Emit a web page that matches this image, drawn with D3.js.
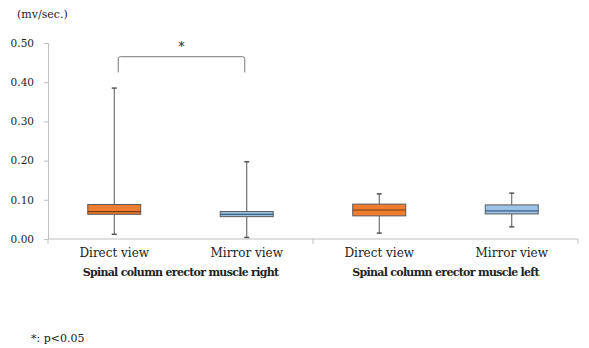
<!DOCTYPE html>
<html><head><meta charset="utf-8">
<script src="https://cdn.jsdelivr.net/npm/d3@7"></script>
<style>body{margin:0;background:#fff}svg{display:block}text{font-family:"DejaVu Serif",serif;fill:#222}</style>
</head><body><svg id="c" width="589" height="348"></svg>
<script>
const groups = ["Spinal column erector muscle right", "Spinal column erector muscle left"];
const conditions = ["Direct view", "Mirror view"];
const mins    = [[0.012, 0.004], [0.015, 0.031]];
const q1s     = [[0.063, 0.057], [0.059, 0.064]];
const medians = [[0.070, 0.063], [0.074, 0.072]];
const q3s     = [[0.088, 0.070], [0.089, 0.087]];
const maxs    = [[0.385, 0.197], [0.115, 0.117]];
const yTicks = [0.00, 0.10, 0.20, 0.30, 0.40, 0.50];
const unitLabel = "(mv/sec.)";
const sigLabel = "*";
const footnote = "*: p<0.05";
const fills = ["#ED7D31", "#9DC3E6"];
const strokes = ["#7a3b10", "#3d5f80"];

const svg = d3.select("#c");
const y = d3.scaleLinear().domain([0, 0.5]).range([239, 43]);
const xg = d3.scaleBand().domain(groups).range([48, 578]).padding(0);
const xc = d3.scaleBand().domain(conditions).range([0, xg.bandwidth()]).paddingInner(0.6).paddingOuter(0.3);

// y axis
const ya = svg.append("g").attr("transform", "translate(48,0)")
  .call(d3.axisLeft(y).tickValues(yTicks).tickFormat(d3.format(".2f")).tickSize(4).tickPadding(10));
ya.select(".domain").attr("stroke", "#bfbfbf");
ya.selectAll(".tick line").attr("stroke", "#bfbfbf");
ya.selectAll("text").style("font-family", "DejaVu Serif").style("font-size", "10.5px").attr("fill", "#222");

// x axis line with group ticks
svg.append("line").attr("x1", 48).attr("x2", 578).attr("y1", y(0)).attr("y2", y(0)).attr("stroke", "#bfbfbf");
const bounds = [xg.range()[0], ...groups.map(g => xg(g) + xg.bandwidth())];
svg.selectAll(".gt").data(bounds).join("line")
  .attr("x1", d => d).attr("x2", d => d).attr("y1", y(0)).attr("y2", y(0) + 5).attr("stroke", "#bfbfbf");

groups.forEach((g, gi) => {
  const gx = xg(g);
  conditions.forEach((c, ci) => {
    const x0 = gx + xc(c), w = xc.bandwidth(), cx = x0 + w / 2;
    const grp = svg.append("g");
    grp.append("line").attr("x1", cx).attr("x2", cx).attr("y1", y(maxs[gi][ci])).attr("y2", y(q3s[gi][ci])).attr("stroke", "#555");
    grp.append("line").attr("x1", cx).attr("x2", cx).attr("y1", y(q1s[gi][ci])).attr("y2", y(mins[gi][ci])).attr("stroke", "#555");
    [maxs[gi][ci], mins[gi][ci]].forEach(v => grp.append("line").attr("x1", cx - 2.5).attr("x2", cx + 2.5).attr("y1", y(v)).attr("y2", y(v)).attr("stroke", "#555").attr("stroke-width", 1.5));
    grp.append("rect").attr("x", x0).attr("width", w).attr("y", y(q3s[gi][ci])).attr("height", y(q1s[gi][ci]) - y(q3s[gi][ci]))
      .attr("fill", fills[ci]).attr("stroke", "#5a5a5a").attr("stroke-width", 1);
    grp.append("line").attr("x1", x0).attr("x2", x0 + w).attr("y1", y(medians[gi][ci])).attr("y2", y(medians[gi][ci])).attr("stroke", strokes[ci]).attr("stroke-width", 1.2);
    svg.append("text").attr("x", cx).attr("y", 257).attr("text-anchor", "middle").style("font-size", "12px").text(c);
  });
  svg.append("text").attr("x", gx + xg.bandwidth() / 2).attr("y", 276).attr("text-anchor", "middle")
    .style("font-size", "11px").style("font-weight", "bold").style("letter-spacing", "-0.7px").text(g);
});

// significance bracket
const bx1 = xg(groups[0]) + xc(conditions[0]) + xc.bandwidth() / 2 + 4;
const bx2 = xg(groups[0]) + xc(conditions[1]) + xc.bandwidth() / 2 - 2;
const byTop = y(0.465), byBot = y(0.425);
svg.append("path").attr("d", `M${bx1},${byBot}V${byTop + 2}Q${bx1},${byTop} ${bx1 + 2},${byTop}H${bx2 - 2}Q${bx2},${byTop} ${bx2},${byTop + 2}V${byBot}`)
  .attr("fill", "none").attr("stroke", "#777").attr("stroke-width", 1);
svg.append("text").attr("x", (bx1 + bx2) / 2).attr("y", 51).attr("text-anchor", "middle").style("font-size", "12px").text(sigLabel);

svg.append("text").attr("x", 17).attr("y", 18).style("font-size", "11px").text(unitLabel);
svg.append("text").attr("x", 31).attr("y", 342).style("font-size", "11px").text(footnote);
</script></body></html>
